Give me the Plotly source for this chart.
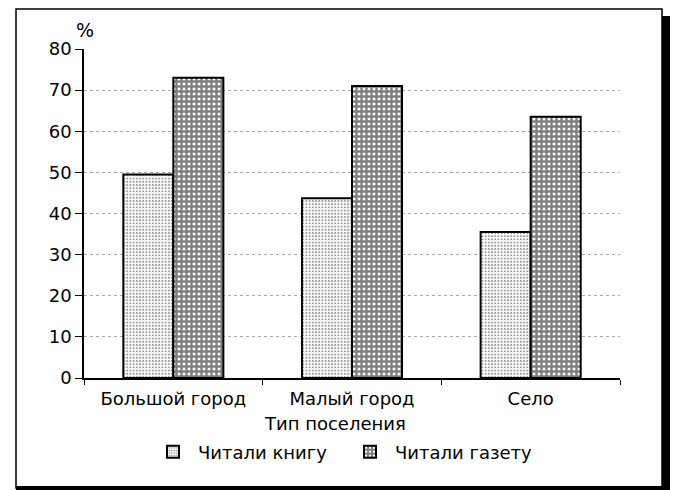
import plotly.graph_objects as go

categories = ["Большой город", "Малый город", "Село"]
books = [49.5, 43.7, 35.5]
newspapers = [73, 71, 63.5]
series_names = ["Читали книгу", "Читали газету"]
y_ticks = [0, 10, 20, 30, 40, 50, 60, 70, 80]

OFF = 8  # page body margin
W, H = 678 - OFF, 490 - OFF
L, R, T, B = 84 - OFF, 58, 49 - OFF, 112
PW, PH = W - L - R, H - T - B


def px(x):
    return (x - OFF - L) / PW


def py(y):
    return (H - B - (y - OFF)) / PH


FONT = "DejaVu Sans"

fig = go.Figure()
fig.add_trace(go.Bar(
    x=categories, y=books, name=series_names[0],
    marker=dict(color="white", line=dict(color="black", width=2),
                pattern=dict(shape=".", fgcolor="#333", bgcolor="white",
                             size=3.2, solidity=0.35)),
))
fig.add_trace(go.Bar(
    x=categories, y=newspapers, name=series_names[1],
    marker=dict(color="white", line=dict(color="black", width=2),
                pattern=dict(shape="+", fgcolor="black", bgcolor="white",
                             size=5, solidity=0.72)),
))

shapes = [
    dict(type="rect", xref="paper", yref="paper", x0=px(16), x1=px(662),
         y0=py(488), y1=py(9), line=dict(color="black", width=1.5)),
    dict(type="rect", xref="paper", yref="paper", x0=px(662), x1=px(670),
         y0=py(490), y1=py(16), line=dict(width=0), fillcolor="black"),
    dict(type="rect", xref="paper", yref="paper", x0=px(16), x1=px(670),
         y0=py(490), y1=py(486), line=dict(width=0), fillcolor="black"),
]

fig.update_layout(
    width=W, height=H,
    margin=dict(l=L, r=R, t=T, b=B, autoexpand=False),
    paper_bgcolor="white", plot_bgcolor="white",
    font=dict(family=FONT, size=18, color="black"),
    barmode="group", bargap=0.44, bargroupgap=0,
    showlegend=True,
    legend=dict(orientation="h", x=px(345), xanchor="center",
                y=py(452), yanchor="middle", font=dict(size=18),
                itemwidth=40, entrywidth=142, entrywidthmode="pixels",
                bgcolor="rgba(0,0,0,0)"),
    shapes=shapes,
    annotations=[
        dict(text="%", xref="paper", yref="paper", x=px(85), y=py(30),
             xanchor="center", yanchor="middle", showarrow=False,
             font=dict(size=19)),
        dict(text="Тип поселения", xref="paper", yref="paper", x=px(335), y=py(423),
             xanchor="center", yanchor="middle", showarrow=False,
             font=dict(size=18)),
    ],
)
fig.update_xaxes(
    showline=True, linecolor="black", linewidth=1.5,
    ticks="outside", tickson="boundaries", ticklen=5, tickcolor="black",
    ticklabelstandoff=4,
    showgrid=False, tickfont=dict(size=18),
)
fig.update_yaxes(
    range=[0, 80], tickvals=y_ticks,
    showline=True, linecolor="black", linewidth=1.5,
    ticks="outside", ticklen=7, tickcolor="black",
    showgrid=True, gridcolor="#aaa", griddash="dot", gridwidth=1,
    zeroline=False, tickfont=dict(size=18),
)

fig.write_html("out.html")
